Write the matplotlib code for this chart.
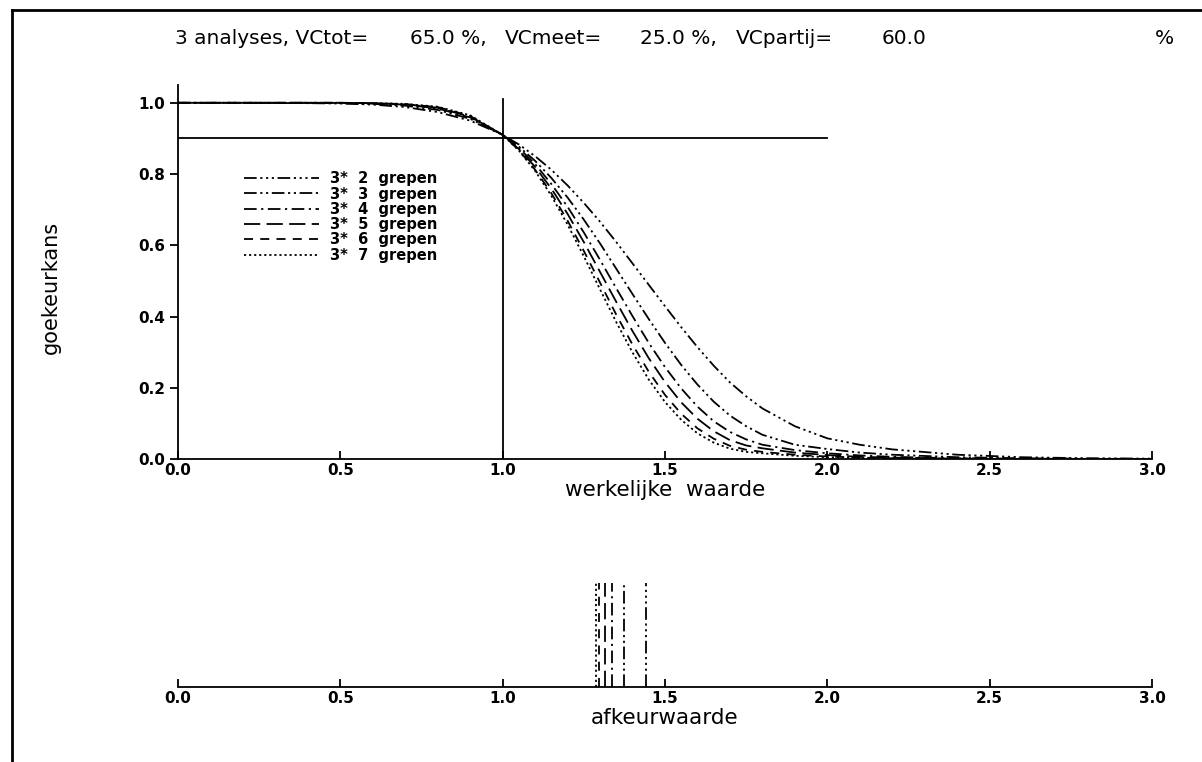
import matplotlib
matplotlib.use("Agg")
import matplotlib.pyplot as plt
from matplotlib.lines import Line2D

# true value grid and acceptance probability per number of grepen
x_true = [0.0, 0.2, 0.4, 0.5, 0.6, 0.7, 0.8, 0.9, 1.0, 1.05, 1.1, 1.15, 1.2, 1.25,
          1.3, 1.35, 1.4, 1.45, 1.5, 1.55, 1.6, 1.65, 1.7, 1.75, 1.8, 1.9, 2.0,
          2.1, 2.2, 2.4, 2.6, 2.8, 3.0]

p_2 = [1.0, 1.0, 0.999, 0.998, 0.995, 0.988, 0.974, 0.950, 0.910, 0.883, 0.850, 0.812,
       0.768, 0.719, 0.666, 0.609, 0.549, 0.489, 0.429, 0.370, 0.314, 0.262, 0.215,
       0.176, 0.142, 0.092, 0.058, 0.040, 0.027, 0.012, 0.005, 0.002, 0.001]
p_3 = [1.0, 1.0, 1.0, 0.999, 0.997, 0.992, 0.980, 0.955, 0.910, 0.877, 0.837, 0.789,
       0.734, 0.672, 0.605, 0.534, 0.463, 0.393, 0.326, 0.264, 0.209, 0.161, 0.122,
       0.092, 0.068, 0.040, 0.028, 0.018, 0.012, 0.005, 0.002, 0.001, 0.0]
p_4 = [1.0, 1.0, 1.0, 1.0, 0.998, 0.995, 0.984, 0.959, 0.910, 0.873, 0.828, 0.772,
       0.708, 0.636, 0.559, 0.479, 0.401, 0.326, 0.258, 0.198, 0.147, 0.106, 0.076,
       0.055, 0.040, 0.025, 0.016, 0.010, 0.006, 0.002, 0.001, 0.0, 0.0]
p_5 = [1.0, 1.0, 1.0, 1.0, 0.999, 0.996, 0.986, 0.961, 0.910, 0.870, 0.820, 0.759,
       0.688, 0.609, 0.525, 0.441, 0.359, 0.283, 0.216, 0.159, 0.113, 0.078, 0.053,
       0.038, 0.030, 0.018, 0.011, 0.006, 0.004, 0.001, 0.0, 0.0, 0.0]
p_6 = [1.0, 1.0, 1.0, 1.0, 0.999, 0.996, 0.988, 0.963, 0.910, 0.867, 0.812, 0.746,
       0.669, 0.584, 0.495, 0.405, 0.321, 0.245, 0.180, 0.127, 0.086, 0.057, 0.037,
       0.026, 0.020, 0.012, 0.007, 0.004, 0.002, 0.0, 0.0, 0.0, 0.0]
p_7 = [1.0, 1.0, 1.0, 1.0, 0.999, 0.997, 0.989, 0.965, 0.910, 0.866, 0.809, 0.739,
       0.658, 0.569, 0.476, 0.384, 0.299, 0.223, 0.160, 0.110, 0.072, 0.046, 0.029,
       0.020, 0.016, 0.009, 0.005, 0.003, 0.001, 0.0, 0.0, 0.0, 0.0]

grepen = [2, 3, 4, 5, 6, 7]
curves = [p_2, p_3, p_4, p_5, p_6, p_7]
afkeur = [1.442, 1.375, 1.338, 1.315, 1.298, 1.288]

styles = [(0, (7, 2, 1.2, 2, 1.2, 2, 1.2, 2)),
          (0, (7, 2, 1.2, 2, 1.2, 2)),
          (0, (7, 2.5, 1.2, 2.5)),
          (0, (9, 3.5)),
          (0, (5, 4)),
          (0, (1.2, 1.6))]

fig = plt.figure(figsize=(12.02, 7.62), dpi=100)

# page frame lines
fig.add_artist(Line2D([12 / 1202, 1.0], [1 - 10 / 762] * 2, color="black", lw=2))
fig.add_artist(Line2D([12 / 1202] * 2, [0.0, 1 - 10 / 762], color="black", lw=2))

ax = fig.add_axes([178 / 1202, 1 - 459 / 762, 974 / 1202, 374 / 762])
for k, p, ls in zip(grepen, curves, styles):
    ax.plot(x_true, p, color="black", lw=1.3, linestyle=ls,
            label="3*  %d  grepen" % k)

ax.plot([1.0, 1.0], [0.0, 1.01], color="black", lw=1.3)
ax.plot([0.0, 2.0], [0.9, 0.9], color="black", lw=1.3)

ax.set_xlim(0, 3)
ax.set_ylim(0, 1.05)
ax.set_xticks([0.0, 0.5, 1.0, 1.5, 2.0, 2.5, 3.0])
ax.set_yticks([0.0, 0.2, 0.4, 0.6, 0.8, 1.0])
ax.xaxis.set_major_formatter(matplotlib.ticker.FormatStrFormatter("%.1f"))
ax.yaxis.set_major_formatter(matplotlib.ticker.FormatStrFormatter("%.1f"))
ax.tick_params(axis="x", direction="in", length=6, width=1.3, labelsize=11, pad=3)
ax.tick_params(axis="y", direction="out", length=6, width=1.3, labelsize=11, pad=3)
for lbl in ax.get_xticklabels() + ax.get_yticklabels():
    lbl.set_fontweight("bold")
for s in ["top", "right"]:
    ax.spines[s].set_visible(False)
for s in ["left", "bottom"]:
    ax.spines[s].set_linewidth(1.3)
ax.set_xlabel("werkelijke  waarde", fontsize=15.5, labelpad=1)
ax.set_ylabel("goekeurkans", fontsize=15)
ax.yaxis.set_label_coords(-0.12, 0.46)

leg = ax.legend(loc="upper left", bbox_to_anchor=(0.062, 0.785), frameon=False,
                handlelength=5.1, handletextpad=0.8, labelspacing=0.02,
                borderaxespad=0, prop={"size": 10.5, "weight": "bold"})

# lower axis with the rejection values
ax2 = fig.add_axes([178 / 1202, 1 - 687 / 762, 974 / 1202, 104 / 762])
for c, ls in zip(afkeur, styles):
    ax2.plot([c, c], [0, 1], color="black", lw=1.3, linestyle=ls)
ax2.set_xlim(0, 3)
ax2.set_ylim(0, 1)
ax2.set_xticks([0.0, 0.5, 1.0, 1.5, 2.0, 2.5, 3.0])
ax2.xaxis.set_major_formatter(matplotlib.ticker.FormatStrFormatter("%.1f"))
ax2.tick_params(axis="x", direction="in", length=6, width=1.3, labelsize=11, pad=3)
for lbl in ax2.get_xticklabels():
    lbl.set_fontweight("bold")
ax2.set_yticks([])
for s in ["top", "right", "left"]:
    ax2.spines[s].set_visible(False)
ax2.spines["bottom"].set_linewidth(1.3)
ax2.set_xlabel("afkeurwaarde", fontsize=15.5, labelpad=1)

# title, in pieces to keep the wide fixed-width spacing
ty = 1 - 38 / 762
for txt, px in [("3 analyses, VCtot=", 175), ("65.0 %,", 410), ("VCmeet=", 505),
                ("25.0 %,", 640), ("VCpartij=", 736), ("60.0", 882), ("%", 1155)]:
    fig.text(px / 1202, ty, txt, fontsize=14.5, ha="left", va="center")

fig.savefig("out.png", dpi=100)
